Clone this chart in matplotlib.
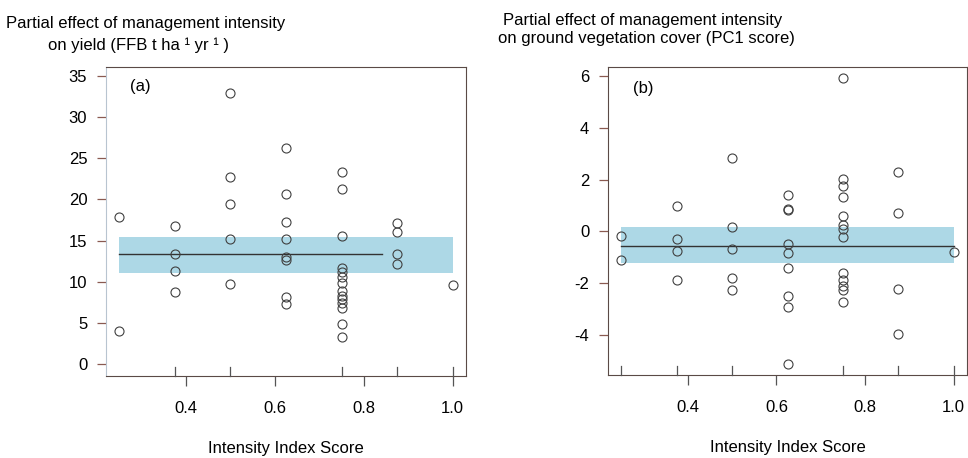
import matplotlib
matplotlib.use("Agg")
import matplotlib.pyplot as plt

plt.rcParams['font.family'] = ['Liberation Sans', 'DejaVu Sans']

# ---- data panel (a): yield ----
xa = ([0.25] * 2 + [0.375] * 4 + [0.5] * 5 + [0.625] * 8 + [0.75] * 14
      + [0.875] * 4 + [1.0])
ya = [17.9, 4.0,
      16.8, 13.4, 11.3, 8.7,
      32.9, 22.7, 19.5, 15.2, 9.7,
      26.2, 20.7, 17.3, 15.2, 13.0, 12.6, 8.1, 7.3,
      23.3, 21.3, 15.6, 11.7, 11.2, 10.6, 9.8, 8.9, 8.3, 7.9, 7.4, 6.8, 4.9, 3.3,
      17.1, 16.0, 13.4, 12.2,
      9.6]
band_x_a = [0.25, 1.0]
band_lo_a = [11.1, 11.1]
band_hi_a = [15.5, 15.5]
fit_x_a = [0.25, 0.84]
fit_y_a = [13.35, 13.35]
rug_a = [0.375, 0.5, 0.75, 0.875, 1.0]

# ---- data panel (b): ground vegetation cover ----
xb = ([0.25] * 2 + [0.375] * 4 + [0.5] * 5 + [0.625] * 9 + [0.75] * 13
      + [0.875] * 4 + [1.0])
yb = [-0.19, -1.12,
      0.97, -0.28, -0.77, -1.88,
      2.84, 0.15, -0.69, -1.80, -2.28,
      1.39, 0.88, 0.84, -0.47, -0.82, -1.41, -2.50, -2.91, -5.12,
      5.92, 2.01, 1.75, 1.31, 0.61, 0.24, 0.11, -0.20, -1.61, -1.87, -2.10, -2.28, -2.74,
      2.29, 0.72, -2.24, -3.97,
      -0.80]
band_x_b = [0.25, 1.0]
band_lo_b = [-1.23, -1.23]
band_hi_b = [0.15, 0.15]
fit_x_b = [0.25, 1.0]
fit_y_b = [-0.55, -0.55]
rug_b = [0.25, 0.375, 0.5, 0.75, 0.875, 1.0]

xticks = [0.4, 0.6, 0.8, 1.0]
xticklabels = ["0.4", "0.6", "0.8", "1.0"]
yticks_a = [0, 5, 10, 15, 20, 25, 30, 35]
yticks_b = [-4, -2, 0, 2, 4, 6]

W, H = 968, 458
fig = plt.figure(figsize=(W / 100, H / 100), dpi=100)

spine_col = '#5a4a46'
tick_col = '#8a5a50'
band_col = '#ADD8E6'
FS = 12


def make_panel(rect, x, y, bx, blo, bhi, fx, fy, rug, yticks, ylim, label, labpos):
    ax = fig.add_axes(rect)
    ax.fill_between(bx, blo, bhi, color=band_col, lw=0, zorder=1)
    ax.plot(fx, fy, color='#333333', lw=1.0, zorder=2)
    ax.plot(x, y, ls='none', marker='o', ms=6.5, mfc='none', mec='#404040',
            mew=0.8, zorder=3)
    ax.set_xlim(0.22, 1.03)
    ax.set_ylim(*ylim)
    ax.set_xticks(xticks)
    ax.set_xticklabels(xticklabels, fontsize=FS)
    ax.set_yticks(yticks)
    ax.set_yticklabels([str(v) for v in yticks], fontsize=FS)
    ax.tick_params(axis='x', direction='out', length=7.2, width=0.9,
                   color='#555555', pad=11)
    ax.tick_params(axis='y', direction='out', length=6.5, width=0.9,
                   color=tick_col, pad=7)
    for r in rug:
        ax.plot([r, r], [0, 0.03], transform=ax.get_xaxis_transform(),
                color='#555555', lw=0.9, clip_on=False, zorder=4)
    for s in ax.spines.values():
        s.set_color(spine_col)
        s.set_linewidth(0.8)
    ax.text(labpos[0], labpos[1], label, transform=ax.transAxes,
            fontsize=FS, va='center', ha='left')
    ax.set_xlabel("Intensity Index Score", fontsize=FS, labelpad=18)
    return ax


axa = make_panel([106 / W, (H - 376) / H, 360 / W, 309 / H], xa, ya,
                 band_x_a, band_lo_a, band_hi_a, fit_x_a, fit_y_a, rug_a,
                 yticks_a, (-1.45, 36.1), "(a)", (0.067, 0.938))
axa.spines['left'].set_color('#b8c4d0')

axb = make_panel([608 / W, (H - 375) / H, 359 / W, 308 / H], xb, yb,
                 band_x_b, band_lo_b, band_hi_b, fit_x_b, fit_y_b, rug_b,
                 yticks_b, (-5.55, 6.35), "(b)", (0.07, 0.93))

fig.text(6 / W, 1 - 28 / H, "Partial effect of management intensity",
         fontsize=FS, va='baseline', ha='left')
fig.text(48 / W, 1 - 50 / H, "on yield (FFB t ha \u00b9 yr \u00b9 )",
         fontsize=FS, va='baseline', ha='left')
fig.text(503 / W, 1 - 25 / H, "Partial effect of management intensity",
         fontsize=FS, va='baseline', ha='left')
fig.text(498 / W, 1 - 43 / H, "on ground vegetation cover (PC1 score)",
         fontsize=FS, va='baseline', ha='left')

fig.savefig("out.png", dpi=100, facecolor='white')
